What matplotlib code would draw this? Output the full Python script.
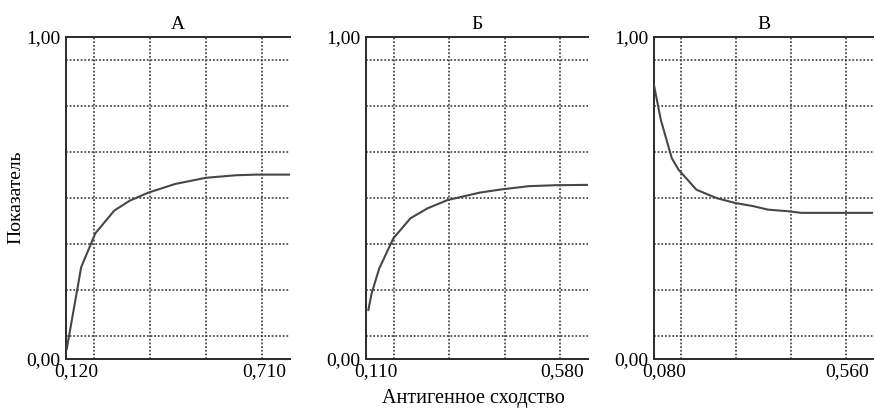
import matplotlib
matplotlib.use("Agg")
import matplotlib.pyplot as plt
from matplotlib.transforms import ScaledTranslation

plt.rcParams['font.family'] = ['Liberation Serif', 'DejaVu Serif']

titles = ["А", "Б", "В"]
x_ranges = [(0.120, 0.710), (0.110, 0.580), (0.080, 0.560)]
x_tick_labels = [("0,120", "0,710"), ("0,110", "0,580"), ("0,080", "0,560")]
y_tick_labels = ["0,00", "1,00"]

xA = [0.122, 0.160, 0.197, 0.247, 0.288, 0.337, 0.408, 0.488, 0.568, 0.622, 0.708]
yA = [0.030, 0.284, 0.389, 0.460, 0.491, 0.516, 0.543, 0.562, 0.570, 0.572, 0.572]

xB = [0.115, 0.122, 0.138, 0.168, 0.204, 0.240, 0.283, 0.351, 0.397, 0.455, 0.511, 0.579]
yB = [0.151, 0.203, 0.280, 0.374, 0.436, 0.467, 0.493, 0.516, 0.526, 0.536, 0.539, 0.540]

xC = [0.080, 0.095, 0.119, 0.134, 0.173, 0.217, 0.257, 0.297, 0.330, 0.374, 0.403, 0.558]
yC = [0.850, 0.742, 0.623, 0.587, 0.525, 0.499, 0.484, 0.474, 0.463, 0.458, 0.453, 0.453]

series = [(xA, yA), (xB, yB), (xC, yC)]

fig = plt.figure(figsize=(8.75, 4.08), dpi=100)
lefts = [66 / 875, 366 / 875, 654 / 875]
widths = [224 / 875, 222 / 875, 219 / 875]
bottom = 1 - 358.5 / 408
height = (358.5 - 37) / 408

axis_col = "#2a2a2a"
grid_col = "#333333"
line_col = "#474747"

for i in range(3):
    ax = fig.add_axes([lefts[i], bottom, widths[i], height])
    x0, x1 = x_ranges[i]
    ax.set_xlim(x0, x1)
    ax.set_ylim(0, 1)
    xs, ys = series[i]
    ax.plot(xs, ys, color=line_col, lw=1.5, zorder=3)

    gx = [x0 + f / 8 * (x1 - x0) for f in (1, 3, 5, 7)]
    gy = [(2 * k + 1) / 14 for k in range(7)]
    ax.set_xticks(gx, minor=True)
    ax.set_yticks(gy, minor=True)
    ax.grid(which='minor', color=grid_col, lw=1.15, linestyle=(0, (1.1, 1.2)))
    ax.grid(which='major', visible=False)

    ax.set_xticks([x0, x1])
    ax.set_xticklabels(list(x_tick_labels[i]))
    ax.set_yticks([0, 1])
    ax.set_yticklabels(y_tick_labels)
    ax.tick_params(which='both', length=0)
    ax.tick_params(axis='x', pad=3, labelsize=14)
    ax.tick_params(axis='y', pad=4, labelsize=14)

    for s in ('left', 'bottom', 'top'):
        ax.spines[s].set_color(axis_col)
        ax.spines[s].set_linewidth(1.4)
    ax.spines['right'].set_visible(False)

    labs = ax.get_xticklabels()
    labs[0].set_ha('center')
    labs[0].set_transform(labs[0].get_transform() + ScaledTranslation(10 / 100, 0, fig.dpi_scale_trans))
    labs[1].set_ha('right')
    labs[1].set_transform(labs[1].get_transform() + ScaledTranslation(-4 / 100, 0, fig.dpi_scale_trans))

    ax.set_title(titles[i], fontsize=14, pad=6)

fig.text(16 / 875, 1 - 197 / 408, "Показатель", rotation=90, ha='center', va='center', fontsize=14)
fig.text(473 / 875, 1 - 398 / 408, "Антигенное сходство", ha='center', va='center', fontsize=14.5)

fig.savefig("out.png", dpi=100)
